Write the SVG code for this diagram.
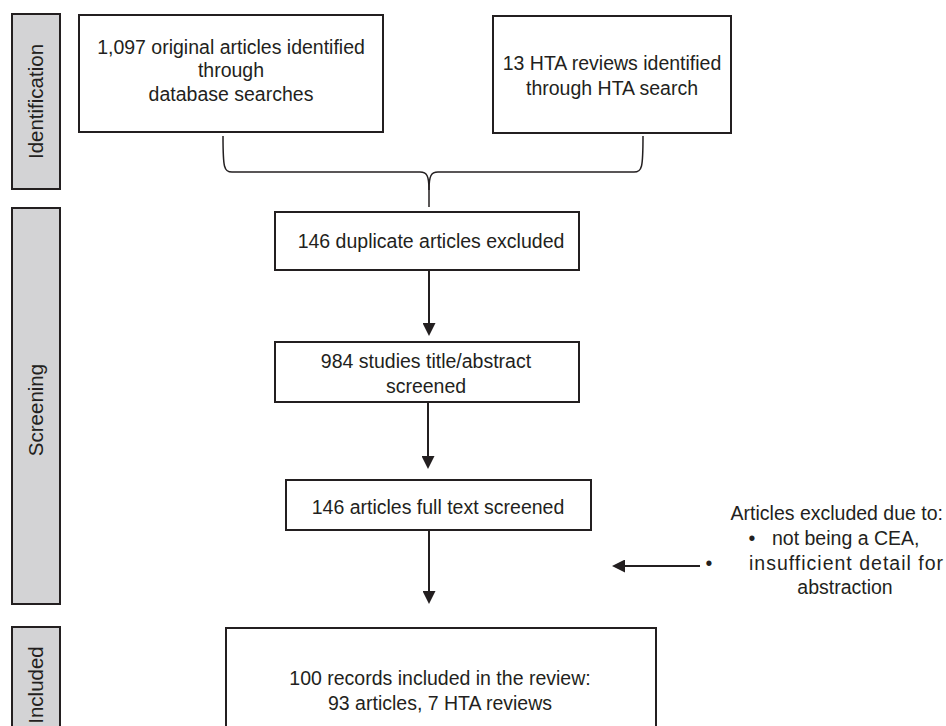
<svg xmlns="http://www.w3.org/2000/svg" width="946" height="726" viewBox="0 0 946 726">
  <style>
    .box { fill: #ffffff; stroke: #231f20; stroke-width: 2; }
    .lbl { fill: #d3d3d5; stroke: #231f20; stroke-width: 2; }
    .t { font-family: "Liberation Sans", Arial, sans-serif; font-size: 19.5px; fill: #231f20; text-anchor: middle; }
    .side { font-family: "Liberation Sans", Arial, sans-serif; font-size: 20.5px; fill: #231f20; text-anchor: middle; }
    .conn { fill: none; stroke: #231f20; stroke-width: 2; }
    .brace { fill: none; stroke: #231f20; stroke-width: 1.5; }
  </style>
  <defs>
    <marker id="ah" viewBox="0 0 13 13" refX="5" refY="6.5" markerWidth="13" markerHeight="13" markerUnits="userSpaceOnUse" orient="auto">
      <path d="M0,0 L13,6.5 L0,13 z" fill="#231f20"/>
    </marker>
  </defs>

  <g id="label-identification">
    <rect class="lbl" x="12" y="14" width="48" height="175"/>
    <text class="side" transform="translate(43,101.5) rotate(-90)">Identification</text>
  </g>
  <g id="label-screening">
    <rect class="lbl" x="12" y="208" width="48" height="396"/>
    <text class="side" transform="translate(43,410) rotate(-90)">Screening</text>
  </g>
  <g id="label-included">
    <rect class="lbl" x="12" y="627" width="48" height="120"/>
    <text class="side" transform="translate(43,685) rotate(-90)">Included</text>
  </g>

  <g id="node-database">
    <rect class="box" x="79" y="15" width="304" height="117"/>
    <text class="t" x="231" y="54">1,097 original articles identified</text>
    <text class="t" x="231" y="77">through</text>
    <text class="t" x="231" y="101">database searches</text>
  </g>
  <g id="node-hta">
    <rect class="box" x="493" y="16" width="238" height="117"/>
    <text class="t" x="612" y="70">13 HTA reviews identified</text>
    <text class="t" x="612" y="95">through HTA search</text>
  </g>
  <g id="node-duplicates">
    <rect class="box" x="275" y="212" width="304" height="58"/>
    <text class="t" x="431" y="248">146 duplicate articles excluded</text>
  </g>
  <g id="node-title-abstract">
    <rect class="box" x="275" y="342" width="304" height="60"/>
    <text class="t" x="426" y="368">984 studies title/abstract</text>
    <text class="t" x="426" y="393">screened</text>
  </g>
  <g id="node-full-text">
    <rect class="box" x="286" y="480" width="305" height="50"/>
    <text class="t" x="438" y="514">146 articles full text screened</text>
  </g>
  <g id="node-included">
    <rect class="box" x="226" y="628" width="430" height="120"/>
    <text class="t" x="440" y="685">100 records included in the review:</text>
    <text class="t" x="440" y="710">93 articles, 7 HTA reviews</text>
  </g>
  <g id="node-excluded">
    <text class="t" x="943" y="520" style="text-anchor:end">Articles excluded due to:</text>
    <text class="t" x="752" y="545">•</text>
    <text class="t" x="772" y="545" style="text-anchor:start">not being a CEA,</text>
    <text class="t" x="709" y="570">•</text>
    <text class="t" x="944" y="570" style="text-anchor:end;letter-spacing:1px">insufficient detail for</text>
    <text class="t" x="845" y="594">abstraction</text>
  </g>

  <g id="connectors">
    <path class="brace" d="M223,136 C223,168 224,172 232,172 L420,172 C427,172 429,176 429,190 L429,207"/>
    <path class="brace" d="M643,136 C643,168 642,172 634,172 L438,172 C431,172 429,176 429,190"/>
    <line class="conn" x1="429" y1="270" x2="429" y2="328" marker-end="url(#ah)"/>
    <line class="conn" x1="428" y1="402" x2="428" y2="461" marker-end="url(#ah)"/>
    <line class="conn" x1="429" y1="530" x2="429" y2="596" marker-end="url(#ah)"/>
    <line class="conn" x1="700" y1="566" x2="620" y2="566" marker-end="url(#ah)"/>
  </g>
</svg>
